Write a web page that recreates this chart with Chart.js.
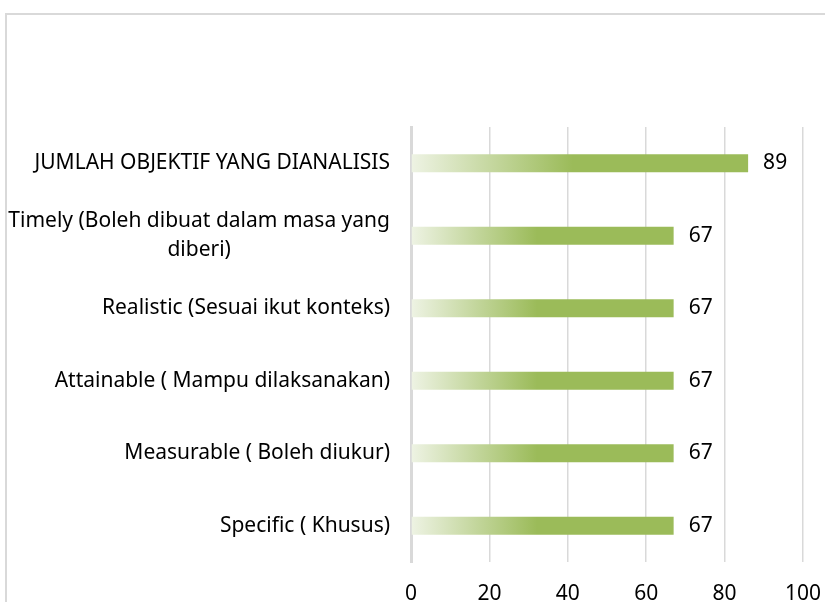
<!DOCTYPE html>
<html lang="ms">
<head>
  <meta charset="UTF-8" />
  <title>Objektif SMART</title>
  <script src="https://cdn.jsdelivr.net/npm/chart.js"></script>
  <style>
    html, body { margin: 0; padding: 0; background: #fff; overflow: hidden; }
    #wrap { position: relative; width: 825px; height: 602px; }
    #frame { position: absolute; left: 5px; top: 13px; width: 900px; height: 700px; border: 2px solid #d9d9d9; box-sizing: border-box; }
    canvas { position: absolute; left: 0; top: 0; }
  </style>
</head>
<body>
  <div id="wrap">
    <div id="frame"></div>
    <canvas id="smartChart" width="825" height="602"></canvas>
  </div>

  <script>
    // Categories, top to bottom as shown
    const categories = [
      'JUMLAH OBJEKTIF YANG DIANALISIS',
      ['Timely (Boleh dibuat dalam masa yang', 'diberi)'],
      'Realistic (Sesuai ikut konteks)',
      'Attainable ( Mampu dilaksanakan)',
      'Measurable ( Boleh diukur)',
      'Specific ( Khusus)'
    ];
    // bar lengths as drawn (top bar reaches about 86 on the axis)
    const values = [86, 67, 67, 67, 67, 67];
    // numbers printed beside the bars
    const valueLabels = ['89', '67', '67', '67', '67', '67'];
    const xTicks = [0, 20, 40, 60, 80, 100];

    const FONT = '"Noto Sans", "Open Sans", sans-serif';
    const FONT_SIZE = 21;

    function barGradient(ctx) {
      const chart = ctx.chart;
      if (!chart.chartArea || !chart.scales.x) return '#9bbb59';
      const xs = chart.scales.x;
      const x0 = xs.getPixelForValue(0);
      const x1 = xs.getPixelForValue(ctx.raw);
      const g = chart.ctx.createLinearGradient(x0, 0, x1, 0);
      g.addColorStop(0, '#eef3e4');
      g.addColorStop(0.48, '#9bbb59');
      g.addColorStop(1, '#9bbb59');
      return g;
    }

    // numbers to the right of each bar
    const valueLabelPlugin = {
      id: 'valueLabels',
      afterDatasetsDraw(chart) {
        const ctx = chart.ctx;
        const meta = chart.getDatasetMeta(0);
        ctx.save();
        ctx.font = FONT_SIZE + 'px ' + FONT;
        ctx.fillStyle = '#000';
        ctx.textAlign = 'left';
        ctx.textBaseline = 'middle';
        meta.data.forEach((bar, i) => {
          ctx.fillText(valueLabels[i], bar.x + 15, bar.y);
        });
        ctx.restore();
      }
    };

    // category labels: block right aligned, lines centred inside the block
    const catLabelPlugin = {
      id: 'catLabels',
      afterDraw(chart) {
        const ctx = chart.ctx;
        const ys = chart.scales.y;
        const right = ys.right - 21;
        const lineH = 29;
        ctx.save();
        ctx.font = FONT_SIZE + 'px ' + FONT;
        ctx.fillStyle = '#000';
        ctx.textBaseline = 'middle';
        ctx.textAlign = 'center';
        categories.forEach((lab, i) => {
          const lines = Array.isArray(lab) ? lab : [lab];
          const w = Math.max(...lines.map(l => ctx.measureText(l).width));
          const cx = right - w / 2;
          const cy = ys.getPixelForValue(i);
          const top = cy - (lines.length - 1) * lineH / 2;
          lines.forEach((l, k) => ctx.fillText(l, cx, top + k * lineH));
        });
        ctx.restore();
      }
    };

    new Chart(document.getElementById('smartChart'), {
      type: 'bar',
      data: {
        labels: categories,
        datasets: [{
          data: values,
          backgroundColor: barGradient,
          borderWidth: 0,
          barPercentage: 0.5,
          categoryPercentage: 0.5
        }]
      },
      options: {
        indexAxis: 'y',
        responsive: false,
        animation: false,
        layout: { padding: { top: 127, right: 22, left: 0, bottom: 0 } },
        plugins: { legend: { display: false }, tooltip: { enabled: false } },
        scales: {
          x: {
            min: 0,
            max: 100,
            afterBuildTicks(scale) { scale.ticks = xTicks.map(v => ({ value: v })); },
            afterFit(scale) {
              scale.height = 40;
              scale.paddingLeft = 0;
              scale.paddingRight = 0;
            },
            grid: { color: '#d9d9d9', lineWidth: 1.5, drawTicks: false },
            border: { display: false },
            ticks: {
              color: '#000',
              padding: 19,
              font: { family: FONT, size: FONT_SIZE }
            }
          },
          y: {
            afterFit(scale) { scale.width = 411; },
            grid: { display: false },
            border: { color: '#d9d9d9', width: 3 },
            ticks: { color: 'rgba(0,0,0,0)', font: { family: FONT, size: FONT_SIZE } }
          }
        }
      },
      plugins: [valueLabelPlugin, catLabelPlugin]
    });
  </script>
</body>
</html>
